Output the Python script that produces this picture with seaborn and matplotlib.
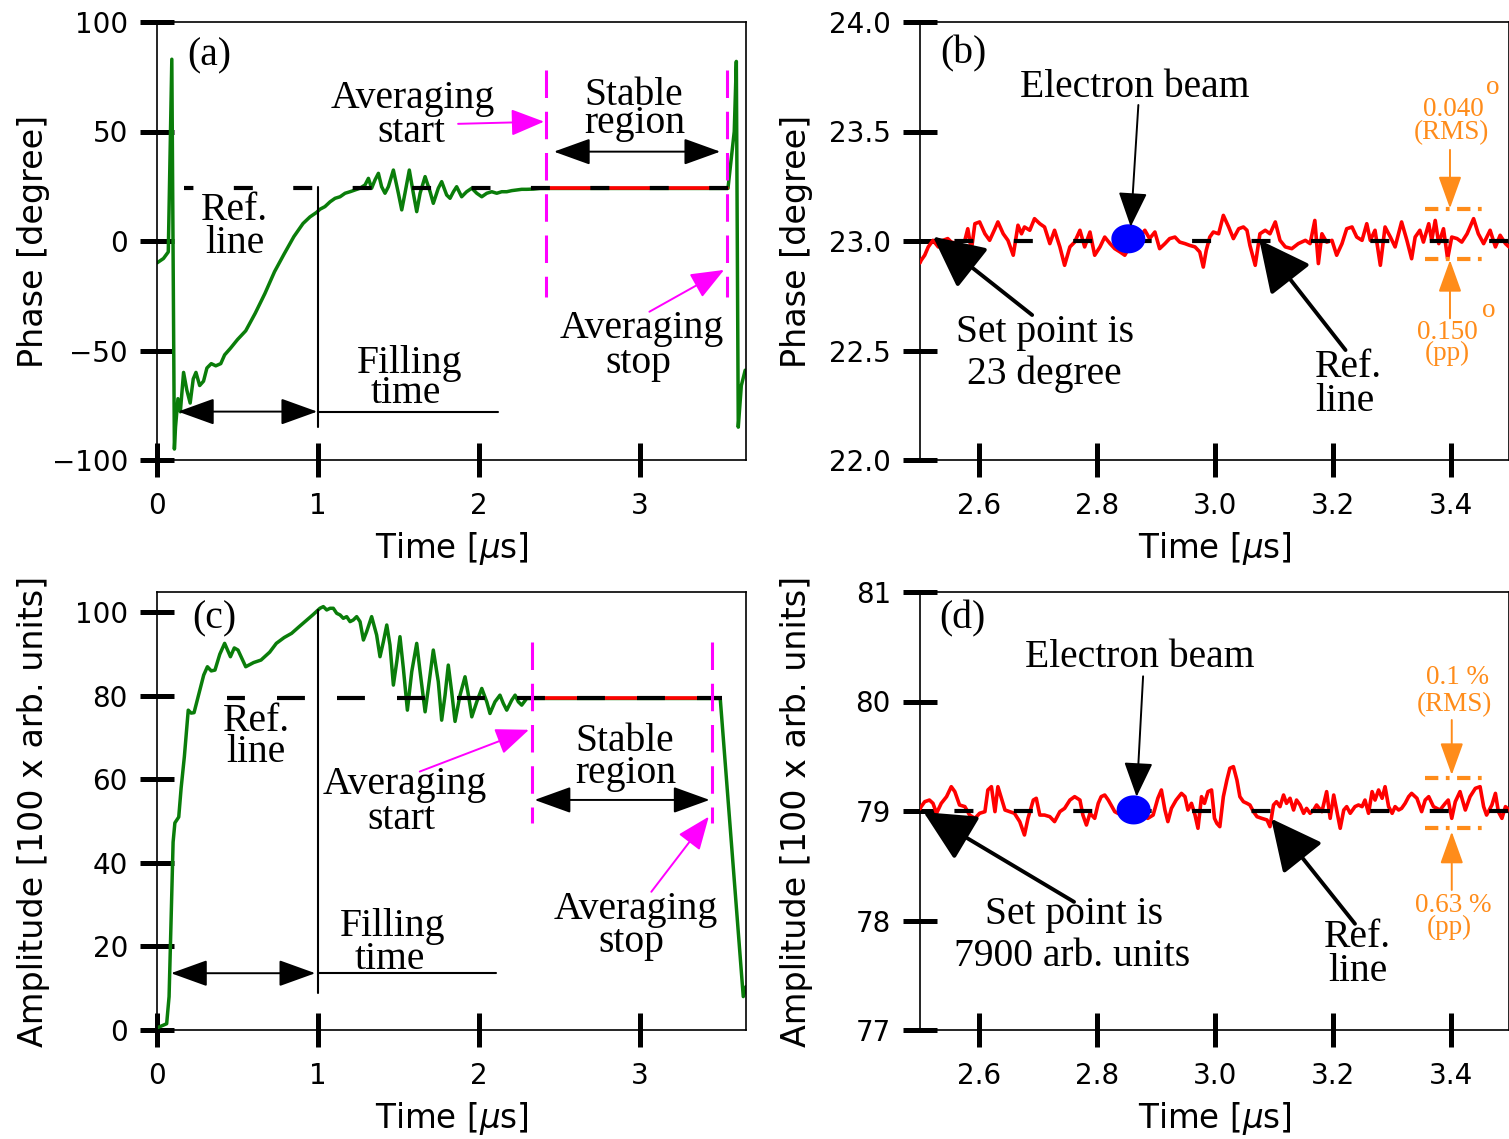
import numpy as np
import matplotlib
matplotlib.use("Agg")
import matplotlib.pyplot as plt
from matplotlib.path import Path
import seaborn as sns

# ---------------- data ----------------
# (a) phase over the whole RF pulse  [us], [degree]
phase_a_t = [0.000, 0.040, 0.070, 0.092, 0.108, 0.115, 0.130, 0.145, 0.165, 0.185,
             0.206, 0.225, 0.242, 0.265, 0.289, 0.310, 0.337, 0.365, 0.396, 0.420,
             0.456, 0.500, 0.551, 0.610, 0.670, 0.730, 0.789, 0.850, 0.907, 0.950,
             0.990, 1.012, 1.043, 1.075, 1.106, 1.137, 1.168, 1.199, 1.230, 1.261,
             1.292, 1.313, 1.333, 1.354, 1.375, 1.395, 1.416, 1.437, 1.468, 1.499,
             1.520, 1.540, 1.567, 1.592, 1.613, 1.634, 1.665, 1.696, 1.716, 1.747,
             1.768, 1.799, 1.820, 1.841, 1.861, 1.892, 1.923, 1.955, 1.986, 2.017,
             2.048, 2.079, 2.110, 2.141, 2.172, 2.203, 2.234, 2.265, 2.296, 2.337,
             2.379, 2.420, 3.546, 3.585, 3.598, 3.610, 3.629, 3.653]
phase_a_v = [-10, -8, -5, 83, -95, -85, -72, -78, -60, -68,
             -74, -63, -60, -66, -64, -58, -56, -57, -56, -52,
             -49, -45, -41, -33, -24, -14, -6, 2, 8, 11,
             13, 14.5, 15.7, 17.9, 19.5, 20.2, 21.8, 22.5, 23.3, 24.1,
             25.6, 28.6, 24.1, 27.9, 30.9, 24.8, 21.8, 24.8, 32.4, 21.8,
             14.2, 21.8, 32.4, 21.8, 13.4, 21.8, 29.4, 22.5, 17.2, 24.1,
             27.1, 21.0, 19.5, 22.5, 24.8, 20.2, 22.5, 24.1, 21.8, 20.2,
             21.8, 22.5, 21.8, 22.5, 22.5, 23.0, 23.3, 23.6, 23.6, 23.7,
             24.0, 24.0, 24.0, 50, 82, -85, -66, -59]

# (c) amplitude over the whole RF pulse  [100 x arb. units]
amp_c_t = [0.000, 0.060, 0.075, 0.087, 0.100, 0.111, 0.135, 0.150, 0.170, 0.194,
           0.212, 0.230, 0.266, 0.290, 0.313, 0.337, 0.360, 0.390, 0.420, 0.456,
           0.480, 0.503, 0.527, 0.551, 0.600, 0.646, 0.700, 0.741, 0.790, 0.836,
           0.880, 0.931, 0.970, 0.995,
           1.012, 1.033, 1.054, 1.075, 1.095, 1.116, 1.137, 1.157, 1.178, 1.199,
           1.219, 1.240, 1.261, 1.282, 1.302, 1.333, 1.364, 1.385, 1.406, 1.427,
           1.447, 1.468, 1.489, 1.509, 1.530, 1.555, 1.582, 1.613, 1.634, 1.665,
           1.685, 1.716, 1.747, 1.768, 1.789, 1.809, 1.830, 1.851, 1.882, 1.913,
           1.934, 1.955, 1.986, 2.017, 2.048, 2.068, 2.099, 2.130, 2.151, 2.172,
           2.203, 2.224, 2.244, 2.265, 2.296, 2.337,
           3.498, 3.641, 3.658]
amp_c_v = [0.5, 1.5, 8, 25.6, 45, 49.6, 51, 58, 65.5, 76.6,
           75.9, 76, 81.4, 85, 87, 86, 86.2, 90, 92.6, 89.4,
           91.5, 91, 89, 87, 88, 88.6, 90.5, 92.6, 94, 95,
           96.5, 98.2, 99.5, 100.4,
           101.0, 101.4, 100.6, 101.0, 101.0, 99.8, 99.4, 98.6, 99.0, 97.8,
           98.2, 99.0, 97.8, 93.4, 95.4, 99.0, 94.6, 89.4, 93.0, 97.0,
           92.2, 82.6, 88.2, 94.2, 86.6, 76.6, 85.8, 92.6, 85.8, 76.2,
           81.8, 91.0, 83.4, 74.2, 80.2, 87.4, 81.0, 73.9, 80.2, 84.6,
           80.2, 75.0, 78.6, 81.8, 78.6, 75.8, 78.6, 80.2, 78.2, 76.6,
           79.0, 80.2, 78.6, 77.8, 79.4, 79.4,
           79.4, 8.0, 10.4]

# (b) phase in the stable region  [degree]
phase_b_t = [2.500, 2.502, 2.508, 2.514, 2.522, 2.531, 2.539, 2.547, 2.553, 2.564,
             2.576, 2.581, 2.587, 2.593, 2.601, 2.610, 2.618, 2.627, 2.632, 2.641,
             2.649, 2.658, 2.666, 2.672, 2.677, 2.686, 2.694, 2.703, 2.711, 2.720,
             2.728, 2.737, 2.745, 2.754, 2.762, 2.771, 2.779, 2.788, 2.796, 2.805,
             2.813, 2.822, 2.830, 2.839, 2.847, 2.858, 2.870, 2.881, 2.889, 2.898,
             2.906, 2.915, 2.923, 2.932, 2.940, 2.949, 2.957, 2.966, 2.974, 2.980,
             2.985, 2.991, 2.997, 3.006, 3.014, 3.023, 3.031, 3.040, 3.048, 3.054,
             3.059, 3.068, 3.076, 3.085, 3.093, 3.102, 3.110, 3.119, 3.130, 3.141,
             3.153, 3.161, 3.169, 3.175, 3.181, 3.189, 3.198, 3.206, 3.215, 3.223,
             3.232, 3.240, 3.249, 3.257, 3.263, 3.271, 3.280, 3.288, 3.297, 3.305,
             3.316, 3.325, 3.333, 3.339, 3.347, 3.353, 3.362, 3.367, 3.373, 3.379,
             3.387, 3.394, 3.401, 3.410, 3.418, 3.427, 3.438, 3.446, 3.455, 3.466,
             3.475, 3.483, 3.492, 3.498, 3.505]
phase_b_v = [22.900, 22.912, 22.935, 22.973, 23.003, 22.973, 23.003, 23.011, 22.995, 22.988,
             23.003, 23.056, 22.957, 23.079, 23.087, 23.033, 23.003, 23.056, 23.087, 23.033,
             23.003, 22.935, 23.072, 23.033, 23.064, 23.049, 23.102, 23.079, 23.064, 22.988,
             23.049, 22.973, 22.889, 22.973, 22.995, 23.049, 22.973, 23.041, 22.935, 22.973,
             23.018, 22.988, 22.965, 22.950, 22.935, 22.988, 23.011, 23.049, 23.011, 23.041,
             22.965, 22.988, 23.011, 23.018, 22.995, 22.988, 22.980, 22.973, 22.950, 22.881,
             22.957, 23.018, 23.041, 23.033, 23.117, 23.064, 23.011, 23.056, 23.064, 23.049,
             22.980, 22.889, 23.033, 23.049, 23.033, 23.087, 23.003, 22.973, 22.965, 22.988,
             23.003, 22.988, 23.094, 22.897, 23.033, 22.995, 23.003, 22.935, 22.988, 23.056,
             23.064, 23.018, 23.003, 23.079, 23.003, 23.049, 22.889, 23.064, 23.018, 22.973,
             23.087, 23.003, 22.919, 23.018, 23.049, 22.995, 23.079, 23.003, 23.094, 22.988,
             23.056, 22.919, 23.018, 23.011, 22.995, 23.033, 23.102, 23.033, 22.988, 23.049,
             22.973, 23.026, 22.988, 22.973, 23.000]

# (d) amplitude in the stable region  [100 x arb. units]
amp_d_t = [2.500, 2.502, 2.508, 2.516, 2.522, 2.528, 2.536, 2.545, 2.553, 2.559,
           2.567, 2.576, 2.584, 2.593, 2.601, 2.610, 2.615, 2.621, 2.627, 2.632,
           2.638, 2.644, 2.652, 2.660, 2.669, 2.677, 2.683, 2.692, 2.697, 2.703,
           2.711, 2.720, 2.728, 2.737, 2.745, 2.754, 2.762, 2.771, 2.776, 2.782,
           2.788, 2.796, 2.802, 2.807, 2.813, 2.819, 2.830, 2.841, 2.853, 2.870,
           2.886, 2.895, 2.903, 2.909, 2.915, 2.920, 2.926, 2.934, 2.943, 2.949,
           2.954, 2.960, 2.966, 2.971, 2.977, 2.982, 2.988, 2.994, 2.999, 3.003,
           3.008, 3.014, 3.020, 3.025, 3.031, 3.037, 3.042, 3.048, 3.054, 3.059,
           3.065, 3.071, 3.079, 3.088, 3.093, 3.099, 3.104, 3.110, 3.116, 3.121,
           3.127, 3.133, 3.138, 3.144, 3.150, 3.155, 3.161, 3.167, 3.172, 3.181,
           3.189, 3.195, 3.201, 3.206, 3.212, 3.218, 3.223, 3.229, 3.237, 3.243,
           3.249, 3.254, 3.260, 3.266, 3.271, 3.277, 3.283, 3.288, 3.294, 3.300,
           3.305, 3.311, 3.316, 3.322, 3.328, 3.333, 3.342, 3.350, 3.356, 3.362,
           3.370, 3.381, 3.390, 3.395, 3.401, 3.407, 3.415, 3.424, 3.432, 3.441,
           3.449, 3.455, 3.460, 3.469, 3.475, 3.480, 3.486, 3.492, 3.498, 3.505]
amp_d_v = [79.020, 79.040, 79.085, 79.100, 79.070, 78.979, 79.070, 79.131, 79.222, 79.177,
           79.055, 79.040, 78.963, 78.933, 78.979, 78.994, 79.192, 79.222, 78.994, 79.222,
           79.116, 79.009, 78.994, 78.979, 78.903, 78.781, 78.933, 79.100, 79.116, 78.963,
           78.963, 78.948, 78.903, 78.994, 79.024, 79.100, 79.131, 79.100, 78.963, 78.872,
           78.979, 78.933, 79.070, 79.131, 79.146, 79.100, 78.994, 78.963, 78.979, 78.979,
           78.933, 78.963, 79.116, 79.192, 79.009, 78.903, 79.024, 79.100, 79.161, 79.131,
           79.009, 79.070, 78.963, 78.842, 79.131, 79.070, 79.177, 79.192, 78.933, 78.887,
           78.857, 79.131, 79.283, 79.390, 79.405, 79.283, 79.131, 79.085, 79.070, 79.055,
           78.994, 78.948, 78.933, 78.918, 78.857, 79.055, 79.085, 79.040, 79.146, 79.070,
           79.116, 79.009, 79.100, 79.055, 78.979, 79.024, 78.979, 79.009, 79.055, 78.994,
           79.177, 78.933, 79.146, 79.009, 78.842, 79.009, 79.040, 78.979, 79.040, 79.055,
           79.040, 79.100, 78.979, 79.177, 79.100, 79.192, 79.116, 79.222, 79.040, 78.979,
           79.040, 79.009, 79.024, 79.070, 79.131, 79.161, 79.116, 78.994, 79.100, 79.131,
           79.040, 79.009, 79.070, 79.100, 78.933, 79.085, 79.177, 79.009, 79.131, 79.207,
           79.222, 79.040, 78.963, 79.055, 79.161, 78.994, 78.933, 79.040, 79.009, 79.000]

ref_phase_a = 24.0
ref_amp_c = 79.4
set_phase = 23.0
set_amp = 79.0
ref_a_span = [0.168, 3.547]
ref_c_span = [0.432, 3.510]
stable_a_span = [2.417, 3.539]
stable_c_span = [2.326, 3.446]
beam_b = (2.853, 23.01)
beam_d = (2.862, 79.01)
band_b = [23.146, 22.918]
band_d = [79.299, 78.842]

full_xticks = [0, 1, 2, 3]
zoom_xticks = [2.6, 2.8, 3.0, 3.2, 3.4]
phase_a_yticks = [-100, -50, 0, 50, 100]
amp_c_yticks = [0, 20, 40, 60, 80, 100]
phase_b_yticks = [22.0, 22.5, 23.0, 23.5, 24.0]
amp_d_yticks = [77, 78, 79, 80, 81]

# ---------------- style ----------------
sns.set_theme(style="white")
plt.rcParams["font.family"] = ["DejaVu Sans"]
plt.rcParams["mathtext.fontset"] = "dejavusans"
SERIF = ["Liberation Serif", "DejaVu Serif"]
GREEN = "#0a7d0a"
MAGENTA = "#ff00ff"
ORANGE = "#ff8c1a"

W, H = 1509, 1139
fig = plt.figure(figsize=(W / 100, H / 100), dpi=100)


def add_axes(l, t, r, b):
    return fig.add_axes([l / W, 1 - b / H, (r - l) / W, (b - t) / H])


axA = add_axes(157, 22, 746, 460)
axB = add_axes(920, 22, 1509, 460)
axC = add_axes(157, 592, 746, 1030)
axD = add_axes(920, 592, 1509, 1030)


def style(ax, xlim, ylim, xticks, yticks, ylabel):
    ax.set_xlim(*xlim)
    ax.set_ylim(*ylim)
    ax.set_xticks(xticks)
    ax.set_yticks(yticks)
    ax.tick_params(axis="both", which="major", bottom=True, left=True,
                   top=False, right=False, direction="inout", length=25,
                   width=3.6, color="black", labelsize=20, labelcolor="black")
    ax.tick_params(axis="y", pad=8.4)
    ax.tick_params(axis="x", pad=10.5)
    for s in ax.spines.values():
        s.set_linewidth(1.2)
        s.set_color("black")
    ax.set_xlabel("Time [$\\mu$s]", fontsize=23.5, color="black")
    ax.set_ylabel(ylabel, fontsize=24, color="black")
    ax.xaxis.set_label_coords(0.5, -0.16)
    ax.yaxis.set_label_coords(-0.182, 0.5)


def txt(ax, x, y, s, size=28.5, color="black"):
    ax.text(x, y, s, ha="center", va="baseline", fontsize=size, color=color,
            family=SERIF, zorder=8)


def arrow(ax, tail, tip, color="black", lw=1.4, hl=23, hw=8.3, both=False):
    st = "<|-|>" if both else "-|>"
    ax.annotate("", xy=tip, xytext=tail,
                arrowprops=dict(arrowstyle=f"{st},head_length={hl},head_width={hw}",
                                color=color, lw=lw, shrinkA=0, shrinkB=0,
                                mutation_scale=1), zorder=7)


ell = np.linspace(0, 2 * np.pi, 60)
ellipse_marker = Path(np.column_stack([1.17 * np.cos(ell), np.sin(ell)]), closed=True)

# ---------------- (a) ----------------
ax = axA
sns.lineplot(x=phase_a_t, y=phase_a_v, ax=ax, color=GREEN, lw=2.5,
             estimator=None, sort=False, zorder=2)
sns.lineplot(x=stable_a_span, y=[ref_phase_a] * 2, ax=ax, color="red", lw=2.6,
             estimator=None, zorder=3)
sns.lineplot(x=ref_a_span, y=[ref_phase_a] * 2, ax=ax, color="black", lw=3.0,
             linestyle=(2.3, (4.56, 9.7)), estimator=None, zorder=4)
for tv in stable_a_span:
    ax.plot([tv, tv], [78.1, -25.4], color=MAGENTA, lw=2.2,
            linestyle=(0, (9, 4.5)), zorder=5)
ax.plot([1.0, 1.0], [24.8, -84.8], color="black", lw=1.5, zorder=4)
ax.plot([1.0, 2.118], [-77.9, -77.9], color="black", lw=1.5, zorder=4)
arrow(ax, (0.13, -77.9), (0.995, -77.9), both=True)
arrow(ax, (2.465, 40.8), (3.498, 40.8), both=True)
arrow(ax, (1.870, 53.5), (2.404, 54.5), color=MAGENTA, lw=1.4, hl=20.6, hw=8.3)
arrow(ax, (3.058, -32.3), (3.522, -13.2), color=MAGENTA, lw=1.4, hl=20.6, hw=8.3)
txt(ax, 0.323, 80.4, "(a)")
txt(ax, 1.590, 60.6, "Averaging")
txt(ax, 1.578, 45.3, "start")
txt(ax, 2.963, 62.3, "Stable")
txt(ax, 2.966, 49.3, "region")
txt(ax, 0.484, 9.6, "Ref.")
txt(ax, 0.484, -5.6, "line")
txt(ax, 1.567, -60.4, "Filling")
txt(ax, 1.543, -74.1, "time")
txt(ax, 3.012, -44.4, "Averaging")
txt(ax, 2.988, -60.4, "stop")
style(ax, (0, 3.658), (-100, 100), full_xticks, phase_a_yticks, "Phase [degree]")

# ---------------- (c) ----------------
ax = axC
sns.lineplot(x=amp_c_t, y=amp_c_v, ax=ax, color=GREEN, lw=2.5,
             estimator=None, sort=False, zorder=2)
sns.lineplot(x=stable_c_span, y=[ref_amp_c] * 2, ax=ax, color="red", lw=2.6,
             estimator=None, zorder=3)
sns.lineplot(x=ref_c_span, y=[ref_amp_c] * 2, ax=ax, color="black", lw=3.0,
             linestyle=(2.4, (6.7, 7.7)), estimator=None, zorder=4)
for tv in stable_c_span:
    ax.plot([tv, tv], [93.0, 49.5], color=MAGENTA, lw=2.2,
            linestyle=(0, (9, 4.5)), zorder=5)
ax.plot([1.0, 1.0], [100.6, 8.8], color="black", lw=1.5, zorder=4)
ax.plot([1.0, 2.107], [13.6, 13.6], color="black", lw=1.5, zorder=4)
arrow(ax, (0.087, 13.6), (0.983, 13.6), both=True)
arrow(ax, (2.345, 55.1), (3.432, 55.1), both=True)
arrow(ax, (1.632, 61.9), (2.310, 71.9), color=MAGENTA, lw=1.4, hl=20.6, hw=8.3)
arrow(ax, (3.070, 33.1), (3.427, 51.1), color=MAGENTA, lw=1.4, hl=20.6, hw=8.3)
txt(ax, 0.354, 96.3, "(c)")
txt(ax, 0.615, 71.7, "Ref.")
txt(ax, 0.615, 64.1, "line")
txt(ax, 1.537, 56.5, "Averaging")
txt(ax, 1.519, 48.1, "start")
txt(ax, 2.905, 66.8, "Stable")
txt(ax, 2.913, 59.1, "region")
txt(ax, 2.975, 26.5, "Averaging")
txt(ax, 2.946, 18.6, "stop")
txt(ax, 1.466, 22.5, "Filling")
txt(ax, 1.447, 14.6, "time")
style(ax, (0, 3.658), (0, 104.9), full_xticks, amp_c_yticks,
      "Amplitude [100 x arb. units]")


# ---------------- (b) and (d) ----------------
def zoom_panel(ax, t, v, setv, beam, band):
    sns.lineplot(x=t, y=v, ax=ax, color="red", lw=2.6, estimator=None,
                 sort=False, zorder=3)
    sns.lineplot(x=[2.5, 3.5], y=[setv, setv], ax=ax, color="black", lw=3.0,
                 linestyle=(6.0, (4.56, 9.7)), estimator=None, zorder=4)
    sns.scatterplot(x=[beam[0]], y=[beam[1]], ax=ax, color="blue", s=600,
                    marker=ellipse_marker, edgecolor="none", zorder=6)
    for yv in band:
        ax.plot([3.355, 3.463], [yv, yv], color=ORANGE, lw=3.0,
                linestyle=(0, (3.2, 1.8, 0.9, 1.8)), zorder=5)


# (b)
ax = axB
zoom_panel(ax, phase_b_t, phase_b_v, set_phase, beam_b, band_b)
arrow(ax, (2.870, 23.621), (2.857, 23.065), lw=1.4, hl=21.6, hw=9)
arrow(ax, (2.690, 22.662), (2.522, 23.020), lw=2.8, hl=32, hw=15.7)
arrow(ax, (3.221, 22.502), (3.075, 23.005), lw=2.8, hl=32, hw=15.7)
arrow(ax, (3.398, 23.416), (3.398, 23.149), color=ORANGE, lw=1.4, hl=20, hw=7.2)
arrow(ax, (3.398, 22.647), (3.398, 22.913), color=ORANGE, lw=1.4, hl=20, hw=7.2)
txt(ax, 2.574, 23.81, "(b)")
txt(ax, 2.864, 23.659, "Electron beam")
txt(ax, 2.711, 22.538, "Set point is")
txt(ax, 2.710, 22.345, "23 degree")
txt(ax, 3.226, 22.378, "Ref.")
txt(ax, 3.220, 22.223, "line")
txt(ax, 3.403, 23.572, "0.040", size=19.5, color=ORANGE)
txt(ax, 3.470, 23.672, "o", size=19.5, color=ORANGE)
txt(ax, 3.401, 23.465, "(RMS)", size=19.5, color=ORANGE)
txt(ax, 3.394, 22.552, "0.150", size=19.5, color=ORANGE)
txt(ax, 3.463, 22.652, "o", size=19.5, color=ORANGE)
txt(ax, 3.393, 22.458, "(pp)", size=19.5, color=ORANGE)
style(ax, (2.5, 3.498), (22, 24), zoom_xticks, phase_b_yticks, "Phase [degree]")

# (d)
ax = axD
zoom_panel(ax, amp_d_t, amp_d_v, set_amp, beam_d, band_d)
arrow(ax, (2.878, 80.23), (2.867, 79.13), lw=1.4, hl=21.6, hw=9)
arrow(ax, (2.761, 78.17), (2.506, 78.99), lw=2.8, hl=32, hw=15.7)
arrow(ax, (3.237, 77.97), (3.095, 78.93), lw=2.8, hl=32, hw=15.7)
arrow(ax, (3.401, 79.831), (3.401, 79.329), color=ORANGE, lw=1.4, hl=20, hw=7.2)
arrow(ax, (3.401, 78.279), (3.401, 78.811), color=ORANGE, lw=1.4, hl=20, hw=7.2)
txt(ax, 2.571, 80.67, "(d)")
txt(ax, 2.873, 80.318, "Electron beam")
txt(ax, 2.761, 77.969, "Set point is")
txt(ax, 2.757, 77.584, "7900 arb. units")
txt(ax, 3.241, 77.756, "Ref.")
txt(ax, 3.242, 77.447, "line")
txt(ax, 3.411, 80.160, "0.1 %", size=19.5, color=ORANGE)
txt(ax, 3.405, 79.912, "(RMS)", size=19.5, color=ORANGE)
txt(ax, 3.403, 78.076, "0.63 %", size=19.5, color=ORANGE)
txt(ax, 3.397, 77.873, "(pp)", size=19.5, color=ORANGE)
style(ax, (2.5, 3.498), (77, 81), zoom_xticks, amp_d_yticks,
      "Amplitude [100 x arb. units]")

fig.savefig("out.png", dpi=100)
